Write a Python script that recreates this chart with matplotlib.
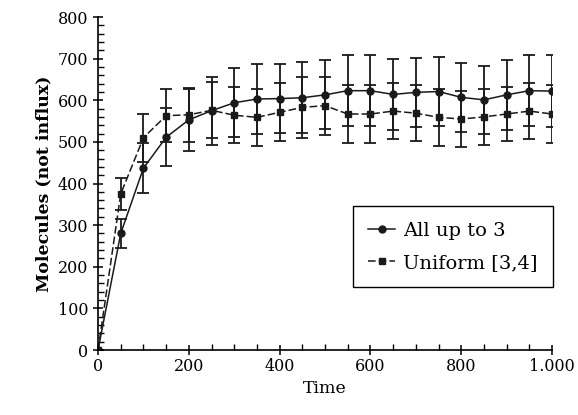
import numpy as np
import matplotlib.pyplot as plt
from matplotlib.lines import Line2D
from matplotlib.ticker import MultipleLocator, FuncFormatter

# values
time = [0, 50, 100, 150, 200, 250, 300, 350, 400, 450, 500,
        550, 600, 650, 700, 750, 800, 850, 900, 950, 1000]

all_up_to_3 = [0, 280, 437, 511, 553, 575, 594, 603, 604, 606, 613,
               623, 623, 614, 619, 621, 607, 601, 613, 623, 622]
all_up_to_3_err = [0, 35, 60, 70, 75, 82, 83, 84, 83, 85, 83,
                   86, 86, 85, 83, 82, 83, 81, 84, 86, 86]

uniform_34 = [0, 375, 510, 563, 565, 576, 564, 559, 571, 583, 587,
              567, 567, 574, 569, 559, 555, 560, 567, 574, 567]
uniform_34_err = [0, 38, 58, 63, 65, 67, 67, 68, 70, 73, 70,
                  70, 70, 68, 68, 68, 68, 67, 65, 68, 70]

plt.rcParams['font.family'] = ['DejaVu Serif']

fig = plt.figure(figsize=(5.78, 4.15), dpi=100)
ax = fig.add_axes([0.1696, 0.1566, 0.7855, 0.8024])

ink = '#1a1a1a'
dash = (0, (5, 2))

ax.errorbar(time, all_up_to_3, yerr=all_up_to_3_err, color=ink,
            linestyle='-', linewidth=1.1, marker='o', markersize=5,
            elinewidth=1.3, capsize=4, capthick=1.3)
ax.errorbar(time, uniform_34, yerr=uniform_34_err, color=ink,
            linestyle=dash, linewidth=1.1, marker='s', markersize=5,
            elinewidth=1.3, capsize=4, capthick=1.3)

ax.set_xlim(0, 1000)
ax.set_ylim(0, 800)
ax.spines['top'].set_visible(False)
ax.spines['right'].set_visible(False)
ax.spines['left'].set_linewidth(1.2)
ax.spines['bottom'].set_linewidth(1.2)

ax.xaxis.set_major_locator(MultipleLocator(200))
ax.xaxis.set_minor_locator(MultipleLocator(50))
ax.yaxis.set_major_locator(MultipleLocator(100))
ax.yaxis.set_minor_locator(MultipleLocator(20))
ax.xaxis.set_major_formatter(FuncFormatter(lambda v, p: f"{int(v):,}".replace(",", ".")))

ax.tick_params(which='major', direction='inout', length=7, width=1.1, labelsize=11.5)
ax.tick_params(which='minor', direction='in', length=4, width=1.0)
ax.tick_params(axis='x', which='major', pad=2)

ax.set_xlabel('Time', fontsize=12.5)
ax.set_ylabel('Molecules (not influx)', fontsize=12.5, fontweight='bold')

handles = [Line2D([], [], color=ink, linestyle='-', linewidth=1.1, marker='o', markersize=5),
           Line2D([], [], color=ink, linestyle=dash, linewidth=1.1, marker='s', markersize=5)]
leg = ax.legend(handles, ['All up to 3', 'Uniform [3,4]'],
                loc='lower right', bbox_to_anchor=(0.957, 0.308),
                bbox_transform=fig.transFigure, borderaxespad=0, fontsize=14,
                frameon=True, fancybox=False, edgecolor='black', framealpha=1,
                handlelength=1.4, handletextpad=0.4, borderpad=0.8, labelspacing=0.7)
leg.get_frame().set_linewidth(1.0)

fig.savefig('out.png', dpi=100)
